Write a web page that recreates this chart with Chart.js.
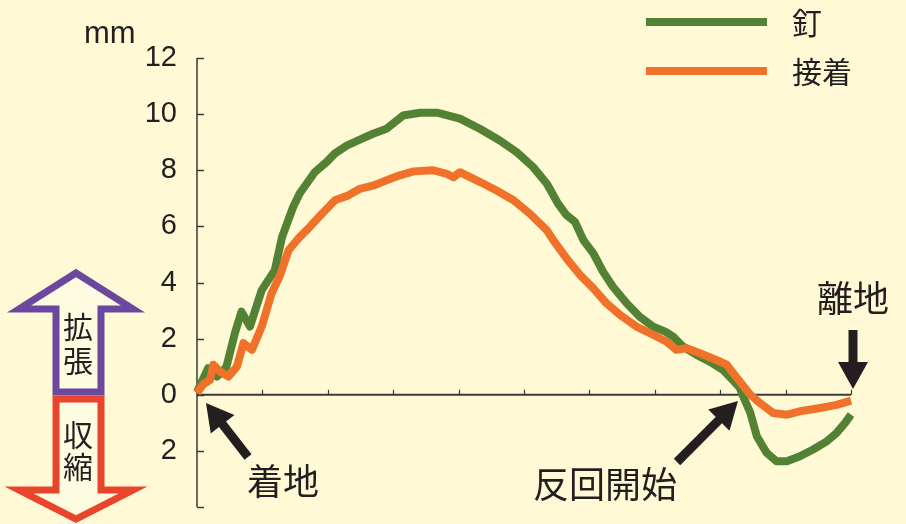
<!DOCTYPE html>
<html>
<head>
<meta charset="utf-8">
<script src="https://cdn.jsdelivr.net/npm/chart.js@4"></script>
<style>
  html, body { margin: 0; padding: 0; background: #fffad5; }
</style>
</head>
<body>
<canvas id="chart" width="906" height="524"></canvas>
<script>
// series names (legend)
const seriesNames = ['釘', '接着'];

// 釘 (nail) curve
const nailX = [0, 1.7, 3.0, 3.8, 4.5, 5.8, 6.8, 8.1, 9.9, 11.9, 13.0, 14.7, 15.7, 18.0, 19.8, 21.1, 22.9, 24.9, 26.9, 29.0,
  31.5, 34.1, 36.7, 40.2, 43.3, 46.3, 48.9, 51.4, 53.5, 55.2, 56.5, 57.8, 59.1, 60.6, 62.1, 63.6, 65.7, 67.7, 69.7, 71.6,
  72.8, 74.3, 76.4, 78.4, 80.4, 81.9, 83.0, 83.4, 84.6, 85.6, 87.1, 88.6, 90.2, 92.2, 94.2, 96.3, 97.8, 99.1, 100];
const nailY = [0.1, 0.95, 0.65, 0.8, 1.0, 2.2, 2.96, 2.43, 3.73, 4.44, 5.62, 6.69, 7.17, 7.93, 8.29, 8.6, 8.88, 9.09, 9.3, 9.48,
  9.95, 10.05, 10.05, 9.84, 9.47, 9.06, 8.64, 8.11, 7.52, 6.81, 6.4, 6.16, 5.5, 5.04, 4.38, 3.85, 3.26, 2.78, 2.43, 2.25,
  2.07, 1.72, 1.42, 1.18, 0.89, 0.53, 0.25, 0, -0.64, -1.48, -2.07, -2.37, -2.37, -2.19, -1.95, -1.66, -1.36, -1.0, -0.71];

// 接着 (glue) curve
const glueX = [0, 0.9, 2.0, 2.5, 3.5, 4.8, 6.1, 7.1, 8.4, 9.9, 11.4, 12.7, 14.0, 15.5, 17.0, 19.1, 21.1, 23.1, 24.9, 27.0,
  29.0, 31.0, 33.1, 36.1, 38.2, 39.2, 40.2, 43.3, 45.8, 48.4, 50.9, 53.5, 54.5, 56.5, 58.6, 60.6, 62.6, 64.7, 67.2, 69.8,
  71.8, 73.3, 74.9, 76.9, 79.4, 81.0, 82.5, 84.6, 86.1, 88.1, 90.2, 92.2, 95.3, 97.8, 100];
const glueY = [0.06, 0.36, 0.53, 1.07, 0.83, 0.65, 1.0, 1.84, 1.6, 2.43, 3.61, 4.26, 5.15, 5.57, 5.92, 6.45, 6.93, 7.1, 7.34, 7.46,
  7.64, 7.82, 7.96, 8.0, 7.87, 7.75, 7.93, 7.58, 7.28, 6.93, 6.45, 5.86, 5.5, 4.86, 4.26, 3.79, 3.26, 2.84, 2.43, 2.13,
  1.89, 1.6, 1.66, 1.48, 1.24, 1.07, 0.62, 0, -0.3, -0.65, -0.71, -0.59, -0.47, -0.36, -0.21];

// axis ranges / ticks
const yMin = -4, yMax = 12, yStep = 2;
const xMin = 0, xMax = 100, xStep = 10;
const unitLabel = 'mm';

const BG = '#fffad5';
const GREEN = '#548235';
const ORANGE = '#f0722a';
const INK = '#231f20';
const JP = '"Noto Sans CJK JP", "Noto Sans", sans-serif';
const LATIN = '"Liberation Sans", Arial, sans-serif';

function toPoints(xs, ys) {
    return xs.map((x, i) => ({ x: x, y: ys[i] }));
}

function blackArrow(ctx, x1, y1, x2, y2) {
    // tail (x1,y1) -> tip (x2,y2)
    const ang = Math.atan2(y2 - y1, x2 - x1);
    const headLen = 27, headW = 15;
    const bx = x2 - Math.cos(ang) * headLen;
    const by = y2 - Math.sin(ang) * headLen;
    ctx.strokeStyle = INK;
    ctx.fillStyle = INK;
    ctx.lineWidth = 9;
    ctx.lineCap = 'butt';
    ctx.beginPath();
    ctx.moveTo(x1, y1);
    ctx.lineTo(bx + Math.cos(ang) * 2, by + Math.sin(ang) * 2);
    ctx.stroke();
    ctx.beginPath();
    ctx.moveTo(x2, y2);
    ctx.lineTo(bx + Math.sin(ang) * headW, by - Math.cos(ang) * headW);
    ctx.lineTo(bx - Math.sin(ang) * headW, by + Math.cos(ang) * headW);
    ctx.closePath();
    ctx.fill();
}

const decorPlugin = {
    id: 'decor',
    beforeDraw(chart) {
        const ctx = chart.ctx;
        ctx.save();
        ctx.fillStyle = BG;
        ctx.fillRect(0, 0, chart.width, chart.height);
        ctx.restore();
    },
    beforeDatasetsDraw(chart) {
        const ctx = chart.ctx;
        const xs = chart.scales.x, ys = chart.scales.y;
        const left = xs.getPixelForValue(xMin);
        const right = xs.getPixelForValue(xMax);
        const y0 = ys.getPixelForValue(0);
        ctx.save();
        ctx.strokeStyle = '#3a3a3a';
        ctx.lineWidth = 1.5;
        // y axis
        ctx.beginPath();
        ctx.moveTo(left, ys.getPixelForValue(yMax));
        ctx.lineTo(left, ys.getPixelForValue(yMin));
        for (let v = yMin; v <= yMax; v += yStep) {
            const p = Math.round(ys.getPixelForValue(v)) + 0.5;
            ctx.moveTo(left, p);
            ctx.lineTo(left + 7, p);
        }
        ctx.stroke();
        // x axis at zero
        ctx.beginPath();
        ctx.lineWidth = 2;
        ctx.moveTo(left, y0);
        ctx.lineTo(right, y0);
        ctx.stroke();
        ctx.lineWidth = 1.2;
        ctx.beginPath();
        for (let v = xMin + xStep; v <= xMax; v += xStep) {
            const p = Math.round(xs.getPixelForValue(v)) + 0.5;
            ctx.moveTo(p, y0);
            ctx.lineTo(p, y0 - 5);
        }
        ctx.stroke();
        ctx.restore();
    },
    afterDraw(chart) {
        const ctx = chart.ctx;
        ctx.save();

        // unit
        ctx.fillStyle = INK;
        ctx.font = '31px ' + LATIN;
        ctx.textAlign = 'left';
        ctx.textBaseline = 'alphabetic';
        ctx.fillText(unitLabel, 84, 43);

        // legend
        const legendY = [22, 71];
        chart.data.datasets.forEach((ds, i) => {
            ctx.strokeStyle = ds.borderColor;
            ctx.lineWidth = 8;
            ctx.lineCap = 'butt';
            ctx.beginPath();
            ctx.moveTo(646, legendY[i]);
            ctx.lineTo(767, legendY[i]);
            ctx.stroke();
            ctx.fillStyle = INK;
            ctx.font = '30px ' + JP;
            ctx.textBaseline = 'middle';
            ctx.fillText(ds.label, 792, legendY[i] + 1);
        });

        // 拡張 / 収縮 double arrow
        ctx.lineJoin = 'miter';
        ctx.lineWidth = 7;
        ctx.fillStyle = '#fffbe0';
        ctx.strokeStyle = '#6b489d';
        ctx.beginPath();
        ctx.moveTo(76, 273);
        ctx.lineTo(133, 309);
        ctx.lineTo(101, 309);
        ctx.lineTo(101, 392);
        ctx.lineTo(56, 392);
        ctx.lineTo(56, 309);
        ctx.lineTo(19, 309);
        ctx.closePath();
        ctx.fill();
        ctx.stroke();
        ctx.strokeStyle = '#e8452c';
        ctx.beginPath();
        ctx.moveTo(56, 399);
        ctx.lineTo(101, 399);
        ctx.lineTo(101, 490);
        ctx.lineTo(133, 490);
        ctx.lineTo(76, 519);
        ctx.lineTo(19, 490);
        ctx.lineTo(56, 490);
        ctx.closePath();
        ctx.fill();
        ctx.stroke();

        ctx.fillStyle = INK;
        ctx.font = '30px ' + JP;
        ctx.textAlign = 'center';
        ctx.textBaseline = 'middle';
        ctx.fillText('拡', 78, 327);
        ctx.fillText('張', 78, 361);
        ctx.fillText('収', 78, 435);
        ctx.fillText('縮', 78, 467);

        // event arrows
        blackArrow(ctx, 248, 457, 206, 403);
        blackArrow(ctx, 677, 462, 738, 401);
        blackArrow(ctx, 853, 330, 853, 389);

        ctx.fillStyle = INK;
        ctx.font = '36px ' + JP;
        ctx.textAlign = 'left';
        ctx.textBaseline = 'middle';
        ctx.fillText('着地', 247, 481);
        ctx.fillText('反回開始', 533, 484);
        ctx.fillText('離地', 817, 298);

        ctx.restore();
    }
};

new Chart(document.getElementById('chart').getContext('2d'), {
    type: 'line',
    data: {
        datasets: [
            {
                label: seriesNames[0],
                data: toPoints(nailX, nailY),
                borderColor: GREEN,
                backgroundColor: GREEN,
                borderWidth: 8,
                pointRadius: 0,
                tension: 0,
                fill: false,
                clip: false,
                borderJoinStyle: 'round',
                order: 1
            },
            {
                label: seriesNames[1],
                data: toPoints(glueX, glueY),
                borderColor: ORANGE,
                backgroundColor: ORANGE,
                borderWidth: 8,
                pointRadius: 0,
                tension: 0,
                fill: false,
                clip: false,
                borderJoinStyle: 'round',
                order: 0
            }
        ]
    },
    options: {
        responsive: false,
        animation: false,
        layout: { padding: { left: 0, top: 58, right: 55, bottom: 17 } },
        plugins: {
            legend: { display: false },
            tooltip: { enabled: false }
        },
        scales: {
            x: {
                type: 'linear',
                min: xMin,
                max: xMax,
                display: false
            },
            y: {
                min: yMin,
                max: yMax,
                afterFit(scale) {
                    scale.width = 197;
                    scale.paddingTop = 0;
                    scale.paddingBottom = 0;
                },
                grid: { display: false, drawTicks: false },
                border: { display: false },
                ticks: {
                    stepSize: yStep,
                    padding: 20,
                    color: INK,
                    font: { family: LATIN, size: 29 },
                    callback: (v) => v === yMin ? '' : String(Math.abs(v))
                }
            }
        }
    },
    plugins: [decorPlugin]
});
</script>
</body>
</html>
